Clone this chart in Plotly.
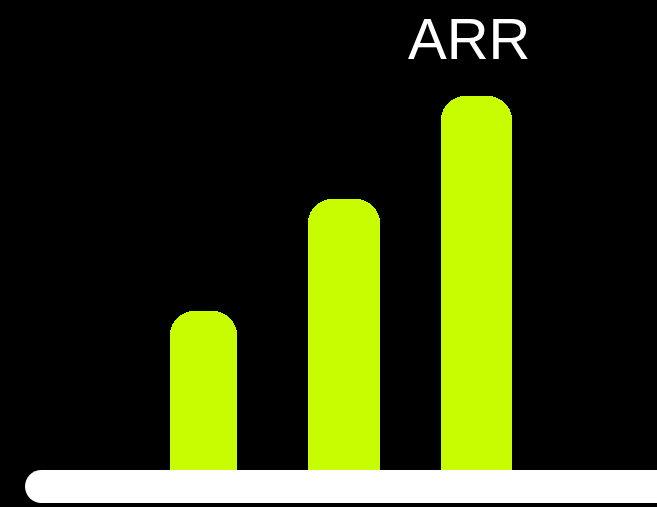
import plotly.graph_objects as go

# Data
categories = ["Year 1", "Year 2", "Year 3"]
arr_values = [1.59, 2.71, 3.74]
title_text = "ARR"

W, H = 657, 507
BAR_COLOR = "#c8fc00"

bar_widths = [0.492, 0.527, 0.520]
bar_offsets = [-0.245, -0.229, -0.260]

fig = go.Figure()
fig.add_trace(go.Bar(
    x=categories,
    y=arr_values,
    width=bar_widths,
    offset=bar_offsets,
    marker=dict(color=BAR_COLOR, line=dict(width=0), cornerradius=24),
    hoverinfo="skip",
))

# rounded white baseline (path in paper-x / data-y)
x_l = 25 / W
x_r = 672 / W
rx = 16.5 / W
y_top, y_bot = 0.0, -0.33
ry = 0.165
k = 0.5523
ym = (y_top + y_bot) / 2
path = (
    f"M {x_l + rx} {y_top} L {x_r - rx} {y_top} "
    f"C {x_r - rx + k * rx} {y_top} {x_r} {ym + k * ry} {x_r} {ym} "
    f"C {x_r} {ym - k * ry} {x_r - rx + k * rx} {y_bot} {x_r - rx} {y_bot} "
    f"L {x_l + rx} {y_bot} "
    f"C {x_l + rx - k * rx} {y_bot} {x_l} {ym - k * ry} {x_l} {ym} "
    f"C {x_l} {ym + k * ry} {x_l + rx - k * rx} {y_top} {x_l + rx} {y_top} Z"
)
fig.add_shape(type="path", path=path, xref="paper", yref="y",
              fillcolor="white", line=dict(width=0), layer="above")

fig.add_annotation(
    text=title_text, x=469 / W, y=1 - 4 / H, xref="paper", yref="paper",
    xanchor="center", yanchor="top", showarrow=False,
    font=dict(family="Liberation Sans, Arial, sans-serif", size=58, color="white"),
)

fig.update_layout(
    width=W, height=H,
    margin=dict(l=0, r=0, t=0, b=0),
    paper_bgcolor="black", plot_bgcolor="black",
    showlegend=False,
    xaxis=dict(range=[-1.486, 3.324], visible=False, fixedrange=True),
    yaxis=dict(range=[-0.37, 4.70], visible=False, fixedrange=True),
    bargap=0,
)

fig.write_html("out.html", config={"displayModeBar": False})
